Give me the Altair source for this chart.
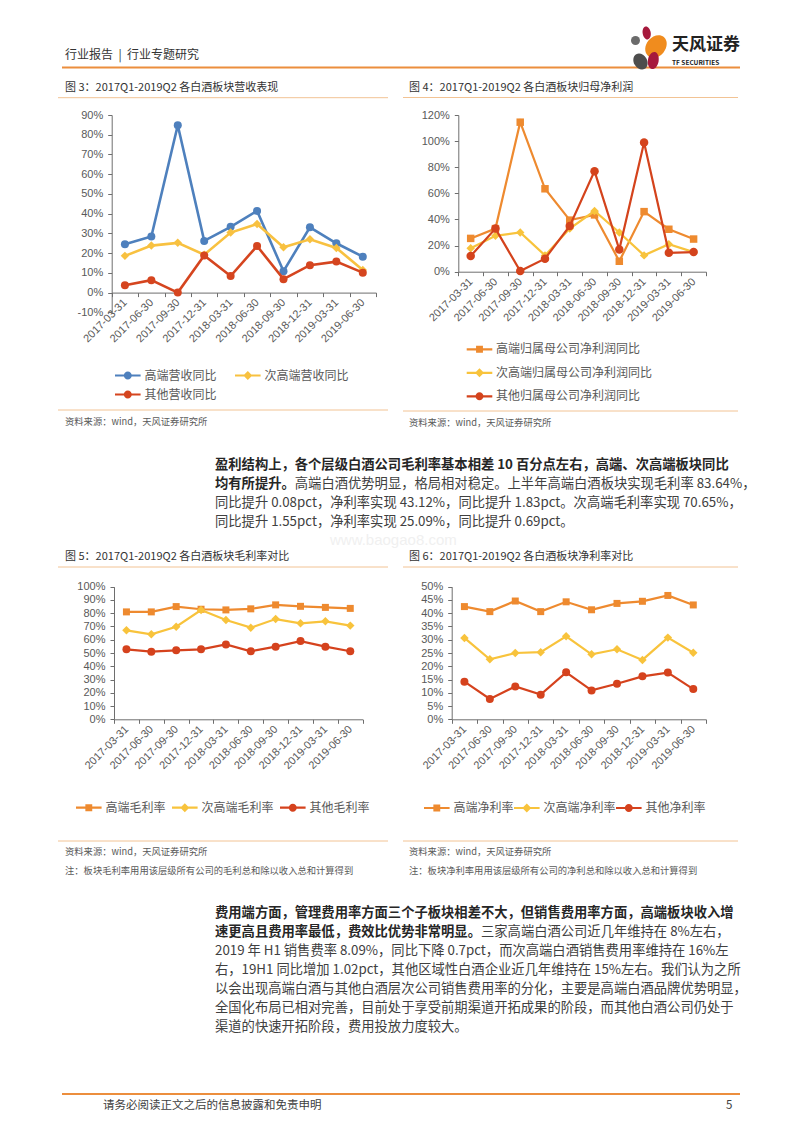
import altair as alt
import pandas as pd

# ---------------- data ----------------
dates = ["2017-03-31", "2017-06-30", "2017-09-30", "2017-12-31", "2018-03-31",
         "2018-06-30", "2018-09-30", "2018-12-31", "2019-03-31", "2019-06-30"]

rev_names = ["高端营收同比", "次高端营收同比", "其他营收同比"]
rev_high = [24.5, 28.4, 84.8, 26.2, 33.3, 41.4, 10.8, 33.1, 25.0, 18.2]
rev_sub = [18.6, 23.8, 25.2, 19.2, 30.4, 34.8, 23.0, 27.0, 22.6, 11.5]
rev_other = [3.7, 6.3, 0.0, 18.8, 8.4, 23.6, 6.8, 13.9, 15.7, 10.1]

np_names = ["高端归属母公司净利润同比", "次高端归属母公司净利润同比", "其他归属母公司净利润同比"]
np_high = [25.5, 33.0, 114.5, 63.5, 39.5, 43.5, 8.0, 46.0, 32.5, 25.0]
np_sub = [18.0, 27.5, 30.0, 12.5, 33.0, 46.5, 30.0, 12.5, 21.0, 15.0]
np_other = [12.0, 33.0, 0.5, 10.0, 35.0, 77.0, 17.0, 99.0, 14.5, 15.0]

gm_names = ["高端毛利率", "次高端毛利率", "其他毛利率"]
gm_high = [81.0, 81.0, 85.0, 83.0, 82.5, 83.3, 86.3, 85.2, 84.4, 83.64]
gm_sub = [67.1, 64.1, 69.8, 82.4, 74.9, 69.1, 75.6, 72.4, 73.9, 70.65]
gm_other = [52.8, 51.0, 52.0, 52.8, 56.5, 51.3, 54.8, 59.0, 54.8, 51.3]

nm_names = ["高端净利率", "次高端净利率", "其他净利率"]
nm_high = [42.5, 40.6, 44.6, 40.6, 44.3, 41.3, 43.7, 44.5, 46.7, 43.12]
nm_sub = [30.7, 22.6, 25.0, 25.3, 31.3, 24.5, 26.4, 22.4, 30.8, 25.09]
nm_other = [14.2, 7.7, 12.4, 9.3, 17.7, 10.9, 13.4, 16.2, 17.6, 11.4]

ticks_rev = [-0.1, 0.0, 0.1, 0.2, 0.3, 0.4, 0.5, 0.6, 0.7, 0.8, 0.9]
ticks_np = [0.0, 0.2, 0.4, 0.6, 0.8, 1.0, 1.2]
ticks_gm = [0.0, 0.1, 0.2, 0.3, 0.4, 0.5, 0.6, 0.7, 0.8, 0.9, 1.0]
ticks_nm = [0.0, 0.05, 0.1, 0.15, 0.2, 0.25, 0.3, 0.35, 0.4, 0.45, 0.5]

# ---------------- page texts ----------------
header_text = "行业报告\u00a0\u00a0|\u00a0\u00a0行业专题研究"
fig_titles = ["图 3：2017Q1-2019Q2 各白酒板块营收表现",
              "图 4：2017Q1-2019Q2 各白酒板块归母净利润",
              "图 5：2017Q1-2019Q2 各白酒板块毛利率对比",
              "图 6：2017Q1-2019Q2 各白酒板块净利率对比"]
source_text = "资料来源：wind，天风证券研究所"
note_left = "注：板块毛利率用用该层级所有公司的毛利总和除以收入总和计算得到"
note_right = "注：板块净利率用用该层级所有公司的净利总和除以收入总和计算得到"
p1_bold = ["盈利结构上，各个层级白酒公司毛利率基本相差 10 百分点左右，高端、次高端板块同比",
           "均有所提升。"]
p1_norm = ["高端白酒优势明显，格局相对稳定。上半年高端白酒板块实现毛利率 83.64%，",
           "同比提升 0.08pct，净利率实现 43.12%，同比提升 1.83pct。次高端毛利率实现 70.65%，",
           "同比提升 1.55pct，净利率实现 25.09%，同比提升 0.69pct。"]
p2_bold = ["费用端方面，管理费用率方面三个子板块相差不大，但销售费用率方面，高端板块收入增",
           "速更高且费用率最低，费效比优势非常明显。"]
p2_norm = ["三家高端白酒公司近几年维持在 8%左右，",
           "2019 年 H1 销售费率 8.09%，同比下降 0.7pct，而次高端白酒销售费用率维持在 16%左",
           "右，19H1 同比增加 1.02pct，其他区域性白酒企业近几年维持在 15%左右。我们认为之所",
           "以会出现高端白酒与其他白酒层次公司销售费用率的分化，主要是高端白酒品牌优势明显，",
           "全国化布局已相对完善，目前处于享受前期渠道开拓成果的阶段，而其他白酒公司仍处于",
           "渠道的快速开拓阶段，费用投放力度较大。"]
footer_text = "请务必阅读正文之后的信息披露和免责申明"
page_num = "5"
logo_cn = "天风证券"
logo_en = "TF SECURITIES"
watermark = "www.baogao8.com"

# ---------------- layout helpers ----------------
W, H = 784, 1116
OFF = 8
CJK = "Noto Sans CJK SC"
LAT = "Liberation Sans"
AXC = "#6E6E6E"
LBC = "#595959"
ORANGE_LINE = "#EC8E3D"
LIGHT_LINE = "#F2C394"
BODY = 13.3


def px(v):
    return v - OFF


# plain texts: x, y, text, size, color (page coordinates)
plain = []
plain.append((65, 55, header_text, 12, "#333333"))
plain.append((65, 87.5, fig_titles[0], 11, "#333333"))
plain.append((409, 88, fig_titles[1], 11, "#333333"))
plain.append((65, 557, fig_titles[2], 11, "#333333"))
plain.append((409, 557, fig_titles[3], 11, "#333333"))
plain.append((65, 422, source_text, 9.3, LBC))
plain.append((409, 423, source_text, 9.3, LBC))
plain.append((65, 852, source_text, 9.3, LBC))
plain.append((409, 852, source_text, 9.3, LBC))
plain.append((65, 871, note_left, 9.3, LBC))
plain.append((409, 871, note_right, 9.3, LBC))
plain.append((103, 1106, footer_text, 11.5, "#404040"))
plain.append((726, 1106, page_num, 11.5, "#404040"))
plain.append((215 + 6 * BODY, 484, p1_norm[0], BODY, "#404040"))
plain.append((215, 503, p1_norm[1], BODY, "#404040"))
plain.append((215, 522, p1_norm[2], BODY, "#404040"))
plain.append((215 + 20 * BODY, 932, p2_norm[0], BODY, "#404040"))
for i, t in enumerate(p2_norm[1:]):
    plain.append((215, 951 + 19 * i, t, BODY, "#404040"))

bold = []
bold.append((215, 465, p1_bold[0], BODY, "#262626"))
bold.append((215, 484, p1_bold[1], BODY, "#262626"))
bold.append((215, 913, p2_bold[0], BODY, "#262626"))
bold.append((215, 932, p2_bold[1], BODY, "#262626"))
bold.append((672, 45, logo_cn, 17, "#222222"))
bold.append((672, 62.5, logo_en, 6.5, "#222222"))

rules = [
    (62, 67.5, 740, 67.5, ORANGE_LINE, 2),
    (58, 97.7, 388, 97.7, LIGHT_LINE, 1),
    (403, 97.5, 738, 97.5, LIGHT_LINE, 1),
    (58, 567, 388, 567, LIGHT_LINE, 1),
    (403, 567, 738, 567, LIGHT_LINE, 1),
    (58, 410, 388, 410, LIGHT_LINE, 1),
    (403, 411, 738, 411, LIGHT_LINE, 1),
    (58, 841, 388, 841, LIGHT_LINE, 1),
    (403, 841, 738, 841, LIGHT_LINE, 1),
    (62, 1094, 740, 1094, ORANGE_LINE, 2),
]

ELL = "M1,0A1,0.62 0 1,1 -1,0A1,0.62 0 1,1 1,0Z"
ELL2 = "M1,0A1,0.78 0 1,1 -1,0A1,0.78 0 1,1 1,0Z"
logo = [  # x, y, path, size, color, angle
    (646.7, 33, ELL, 169, "#A6193C", 80),
    (635.5, 40.5, "circle", 81, "#6B6B6B", 0),
    (656, 46.5, ELL2, 600, "#F08C1E", -50),
    (640.5, 61.5, ELL2, 290, "#4D4D4D", 60),
    (653.3, 60.5, ELL, 300, "#A6193C", 100),
]


def tdf(items):
    return pd.DataFrame({"x": [px(a[0]) for a in items], "y": [px(a[1]) for a in items],
                         "t": [a[2] for a in items], "s": [a[3] for a in items],
                         "c": [a[4] for a in items]})


def text_layer(items, font, weight="normal"):
    return alt.Chart(tdf(items)).mark_text(align="left", baseline="middle", font=font,
                                            fontWeight=weight).encode(
        x=alt.X("x:Q", scale=None, axis=None),
        y=alt.Y("y:Q", scale=None, axis=None),
        text="t:N",
        size=alt.Size("s:Q", scale=None, legend=None),
        color=alt.Color("c:N", scale=None, legend=None),
    )


wm_layer = alt.Chart(pd.DataFrame({"x": [px(330)], "y": [px(539.5)], "t": [watermark]})).mark_text(
    align="left", baseline="middle", font=LAT, fontSize=15, color="#F0F0F0").encode(
    x=alt.X("x:Q", scale=None, axis=None), y=alt.Y("y:Q", scale=None, axis=None), text="t:N")

rule_df = pd.DataFrame({"x": [px(r[0]) for r in rules], "y": [px(r[1]) for r in rules],
                        "x2": [px(r[2]) for r in rules], "y2": [px(r[3]) for r in rules],
                        "c": [r[4] for r in rules], "w": [r[5] for r in rules]})
rule_layer = alt.Chart(rule_df).mark_rule().encode(
    x=alt.X("x:Q", scale=None, axis=None), y=alt.Y("y:Q", scale=None, axis=None),
    x2="x2:Q", y2="y2:Q",
    color=alt.Color("c:N", scale=None, legend=None),
    strokeWidth=alt.StrokeWidth("w:Q", scale=None, legend=None),
)

logo_df = pd.DataFrame({"x": [px(a[0]) for a in logo], "y": [px(a[1]) for a in logo],
                        "p": [a[2] for a in logo], "s": [a[3] for a in logo],
                        "c": [a[4] for a in logo], "a": [a[5] for a in logo]})
logo_layer = alt.Chart(logo_df).mark_point(filled=True, opacity=1, strokeWidth=0).encode(
    x=alt.X("x:Q", scale=None, axis=None), y=alt.Y("y:Q", scale=None, axis=None),
    shape=alt.Shape("p:N", scale=None, legend=None),
    size=alt.Size("s:Q", scale=None, legend=None),
    color=alt.Color("c:N", scale=None, legend=None),
    angle=alt.Angle("a:Q", scale=None),
)

# legend symbol paths (line + marker)
LINE = "M-1.6,-0.14H1.6V0.14H-1.6Z "
SYM = {
    "circle": LINE + "M0.5,0A0.5,0.5 0 1,1 -0.5,0A0.5,0.5 0 1,1 0.5,0Z",
    "square": LINE + "M-0.43,-0.43H0.43V0.43H-0.43Z",
    "diamond": LINE + "M0,-0.56L0.56,0L0,0.56L-0.56,0Z",
}


def make_plot(names, series, colors, shapes, sizes, lw, xr, yr, ydom, yvals,
              y_axis_x, x_axis_y, lx, ly, cols, colpad, rowpad):
    rows = []
    for n, vals in zip(names, series):
        for d, v in zip(dates, vals):
            rows.append({"date": d, "series": n, "value": v / 100.0})
    df = pd.DataFrame(rows)
    X = alt.X("date:N", sort=dates,
              scale=alt.Scale(type="band", domain=dates, range=[px(xr[0]), px(xr[1])],
                              paddingInner=0, paddingOuter=0),
              axis=alt.Axis(orient="bottom", offset=-(H - px(x_axis_y)), title=None,
                            labelAngle=-45, labelAlign="right", labelBaseline="middle",
                            tickBand="extent", tickSize=4, labelPadding=4,
                            labelFont=LAT, labelFontSize=11, labelColor=LBC,
                            domainColor=AXC, tickColor=AXC, grid=False,
                            labelOverlap=False))
    Y = alt.Y("value:Q",
              scale=alt.Scale(domain=ydom, range=[px(yr[0]), px(yr[1])], nice=False, zero=False),
              axis=alt.Axis(orient="left", offset=-px(y_axis_x), title=None, values=yvals,
                            labelExpr="(datum.value < -0.0001 ? '-' : '') + format(abs(datum.value), '.0%')",
                            tickSize=4, labelPadding=5, labelFont=LAT, labelFontSize=11,
                            labelColor=LBC, domainColor=AXC, tickColor=AXC, grid=False,
                            labelOverlap=False))
    layers = []
    for n, c, s, sz in zip(names, colors, shapes, sizes):
        base = alt.Chart(df).transform_filter(alt.datum.series == n)
        layers.append(base.mark_line(color=c, strokeWidth=lw).encode(x=X, y=Y))
        layers.append(base.mark_point(shape=s, filled=True, color=c, size=sz, opacity=1,
                                      strokeWidth=0).encode(x=X, y=Y))
    leg = alt.Legend(orient="none", legendX=px(lx), legendY=px(ly), columns=cols,
                     direction="horizontal", title=None, symbolSize=256, symbolOffset=4.8,
                     labelOffset=8.6, labelFont=CJK, labelFontSize=12, labelColor=LBC,
                     columnPadding=colpad, rowPadding=rowpad, symbolStrokeWidth=0,
                     padding=0, labelLimit=0)
    leg_layer = alt.Chart(df).transform_filter("false").mark_point(
        filled=True, opacity=1, strokeWidth=0).encode(
        color=alt.Color("series:N", scale=alt.Scale(domain=names, range=colors), legend=leg),
        shape=alt.Shape("series:N", scale=alt.Scale(domain=names, range=[SYM[s] for s in shapes]),
                        legend=leg),
    )
    return alt.layer(*layers, leg_layer)


p1 = make_plot(rev_names, [rev_high, rev_sub, rev_other], ["#4E80BD", "#F8C140", "#D5451F"],
               ["circle", "diamond", "circle"], [64, 72, 64], 2.6,
               [111.7, 376.0], [312.3, 115.0], [-0.1, 0.9], ticks_rev,
               111.7, 292.6, 115, 367.5, 2, 18, 5)
p2 = make_plot(np_names, [np_high, np_sub, np_other], ["#EE8A2F", "#F8C33C", "#D4431C"],
               ["square", "diamond", "circle"], [56, 72, 72], 2.2,
               [458.3, 706.0], [271.7, 115.0], [0, 1.2], ticks_np,
               458.3, 271.7, 466.7, 341.3, 1, 10, 9.5)
p3 = make_plot(gm_names, [gm_high, gm_sub, gm_other], ["#EE8A2F", "#F8C33C", "#D5421D"],
               ["square", "diamond", "circle"], [49, 72, 64], 2.2,
               [114.0, 362.7], [719.3, 586.7], [0, 1.0], ticks_gm,
               114.0, 719.3, 76, 799.7, 3, 6, 4)
p4 = make_plot(nm_names, [nm_high, nm_sub, nm_other], ["#EE8A2F", "#F8C33C", "#D5421D"],
               ["square", "diamond", "circle"], [49, 72, 64], 2.2,
               [451.7, 706.0], [719.3, 586.7], [0, 0.5], ticks_nm,
               451.7, 719.3, 424, 800, 3, -4, 4)

chart = alt.layer(
    wm_layer, rule_layer, logo_layer,
    text_layer(plain, CJK), text_layer(bold, CJK, "bold"),
    p1, p2, p3, p4,
).resolve_scale(
    x="independent", y="independent", color="independent", shape="independent",
    size="independent", strokeWidth="independent", angle="independent",
).properties(
    width=W, height=H, autosize=alt.AutoSizeParams(type="none"), padding=0, background="white",
).configure_view(stroke=None)

chart.save("out.html", embed_options={"renderer": "svg", "actions": False})
